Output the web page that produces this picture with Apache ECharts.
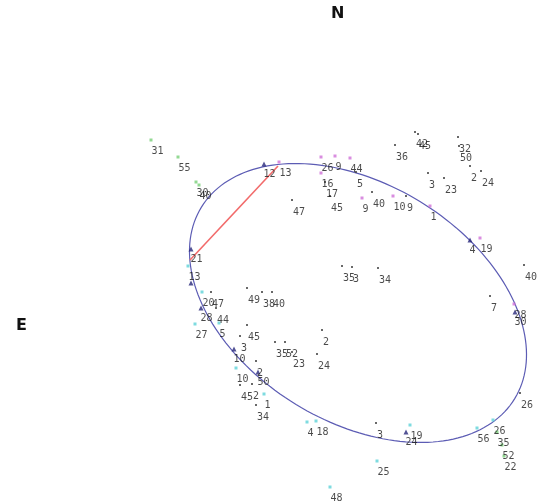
<!DOCTYPE html>
<html>
<head>
<meta charset="utf-8">
<script src="https://cdn.jsdelivr.net/npm/echarts@6/dist/echarts.min.js"></script>
<style>
  html,body{margin:0;padding:0;background:#fff;}
  #main{width:537px;height:503px;}
</style>
</head>
<body>
<div id="main"></div>
<script>
// star positions in chart units (x to the right, y downward) + catalogue label
var greenStars = [
  [151,140,'31'],[178,157,'55'],[196,182,'30'],[199,185,'40'],
  [497,432,'35'],[502,445,'52'],[504,456,'22']
];
var cyanStars = [
  [188,266,'13'],[202,292,'20'],[195,324,'27'],[219,323,'5'],
  [236,368,'10'],[264,394,'1'],[307,422,'4'],[316,421,'18'],
  [410,425,'19'],[377,461,'25'],[477,428,'56'],[493,420,'26'],
  [330,487,'48']
];
var magentaStars = [
  [279,162,'13'],[321,157,'26'],[335,156,'9'],[350,158,'44'],
  [321,173,'16'],[362,198,'9'],[393,196,'10'],[430,206,'1'],
  [480,238,'19'],[514,304,'28']
];
var navyStars = [
  [264,164,'12'],[191,249,'21'],[191,283,''],[201,308,'28'],
  [234,349,'10'],[258,372,'50'],[515,312,'30'],[470,240,'4'],
  [406,432,'24']
];
var blackStars = [
  [292,200,'47'],[356,172,'5'],[325,182,'17'],[330,196,'45'],
  [372,192,'40'],[406,196,'9'],[395,145,'36'],[415,132,'42'],
  [418,134,'45'],[458,137,'32'],[459,146,'50'],[470,166,'2'],
  [481,171,'24'],[428,173,'3'],[444,178,'23'],[524,265,'40'],
  [247,288,'49'],[262,292,'38'],[272,292,'40'],[342,266,'35'],
  [352,267,'3'],[378,268,'34'],[490,296,'7'],[211,292,'47'],
  [216,308,'44'],[247,325,'45'],[240,336,'3'],[322,330,'2'],
  [275,342,'35'],[285,342,'52'],[292,352,'23'],[317,354,'24'],
  [256,361,'2'],[240,385,'45'],[252,384,'2'],[256,405,'34'],
  [376,423,'3'],[520,393,'26']
];
// pair joined by the red segment
var pairLine = [[190,260],[278,166]];
// error ellipse: centre, semi axes, tilt (deg, clockwise on screen)
var ellipseCenter = [358,303];
var ellipseAxes = [183.6,118.9];
var ellipseTilt = 31.4;

var chart = echarts.init(document.getElementById('main'));

function starSeries(data, color, symbol, size){
  return {
    type:'scatter',
    data:data,
    symbol:symbol,
    symbolSize:size,
    itemStyle:{color:color},
    label:{
      show:true,
      position:[2,8],
      formatter:function(p){return p.value[2];},
      fontFamily:'DejaVu Sans Mono',
      fontSize:10,
      color:'#1c1c1c'
    },
    silent:true,
    z:3
  };
}

var option = {
  animation:false,
  backgroundColor:'#fff',
  title:[
    {text:'N',left:326,top:1,textStyle:{fontFamily:'DejaVu Sans',fontWeight:'bold',fontSize:16,color:'#111'}},
    {text:'E',left:11,top:313,textStyle:{fontFamily:'DejaVu Sans',fontWeight:'bold',fontSize:16,color:'#111'}}
  ],
  grid:{left:0,right:0,top:0,bottom:0},
  xAxis:{type:'value',min:0,max:537,show:false},
  yAxis:{type:'value',min:0,max:503,inverse:true,show:false},
  series:[
    {
      type:'custom',
      data:[[ellipseCenter[0],ellipseCenter[1],ellipseAxes[0],ellipseAxes[1],ellipseTilt]],
      renderItem:function(params, api){
        var cx=api.value(0), cy=api.value(1), a=api.value(2), b=api.value(3);
        var th=api.value(4)*Math.PI/180;
        var pts=[];
        for(var i=0;i<=180;i++){
          var t=i/180*2*Math.PI;
          pts.push(api.coord([
            cx + a*Math.cos(t)*Math.cos(th) - b*Math.sin(t)*Math.sin(th),
            cy + a*Math.cos(t)*Math.sin(th) + b*Math.sin(t)*Math.cos(th)
          ]));
        }
        return {type:'polyline',shape:{points:pts},style:{stroke:'#5c5cb4',lineWidth:1.2,fill:null}};
      },
      silent:true,
      z:2
    },
    {
      type:'line',
      data:pairLine,
      symbol:'none',
      lineStyle:{color:'#f26a6a',width:1.6},
      silent:true,
      z:2
    },
    starSeries(greenStars,'#78d078','rect',3),
    starSeries(cyanStars,'#5ed2d8','rect',3),
    starSeries(magentaStars,'#d070d8','rect',3),
    starSeries(navyStars,'#28287a','triangle',5),
    starSeries(blackStars,'#444','rect',2)
  ]
};
chart.setOption(option);
</script>
</body>
</html>
